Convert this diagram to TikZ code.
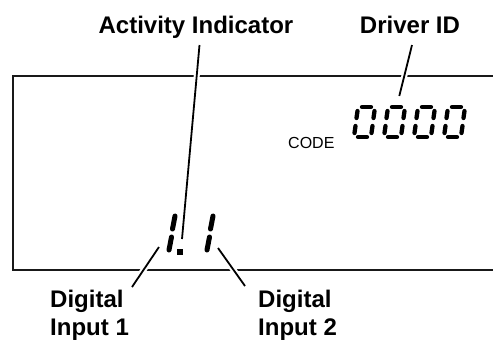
\documentclass[tikz,border=0pt]{standalone}
\usepackage{fontspec}
\setmainfont{Liberation Sans}
\begin{document}
\begin{tikzpicture}[x=1pt,y=-1pt,
  lbl/.style={font=\fontsize{24}{28}\selectfont\bfseries, inner sep=0pt},
  border/.style={line width=2.4pt, draw=black!90},
  leader/.style={line width=1.8pt, preaction={draw=white, line width=6pt}},
  segm/.style={line width=4.3pt, line cap=round},
  segb/.style={line width=5pt, line cap=round}]
\useasboundingbox (0,0) rectangle (493,341);
% display window
\draw[border] (500,76) -- (13,76) -- (13,270) -- (500,270);
% leader connectors
\coordinate (aiTop) at (199.5,45);
\coordinate (aiEnd) at (182,239);
\coordinate (drTop) at (412,45);
\coordinate (drEnd) at (399.3,96);
\coordinate (d1Top) at (159,247);
\coordinate (d1End) at (132,287);
\coordinate (d2Top) at (218,248);
\coordinate (d2End) at (245,286);
\draw[leader] (aiTop) -- (aiEnd);
\draw[leader] (drTop) -- (drEnd);
\draw[leader] (d1Top) -- (d1End);
\draw[leader] (d2Top) -- (d2End);
% seven-segment 0000
\foreach \dx in {0,30,60,90}{
  \begin{scope}[shift={(\dx,0)}]
    \draw[segm] (362,107) -- (371,107);
    \draw[segm] (374.5,111) -- (373.5,118);
    \draw[segm] (372.5,126) -- (371.5,133);
    \draw[segm] (358,137) -- (367,137);
    \draw[segm] (355.5,126) -- (354.5,133);
    \draw[segm] (357.5,111) -- (356.5,118);
  \end{scope}
}
% 1.1
\draw[segb] (175,216) -- (172.5,229);
\draw[segb] (171.5,237) -- (169,250);
\fill (177,249) rectangle (183,255);
\draw[segb] (213,216) -- (210.5,229);
\draw[segb] (209.5,237) -- (207,250);
% texts
\node[font=\fontsize{16}{18}\selectfont, inner sep=0pt, anchor=base west] (code) at (288,148) {CODE};
\node[lbl, anchor=base] (ai) at (196,33) {Activity Indicator};
\node[lbl, anchor=base] (dr) at (410,33) {Driver ID};
\node[lbl, anchor=base west, align=left] (di1) at (50,335) {Digital\\Input 1};
\node[lbl, anchor=base west, align=left] (di2) at (258,335) {Digital\\Input 2};
\end{tikzpicture}
\end{document}
